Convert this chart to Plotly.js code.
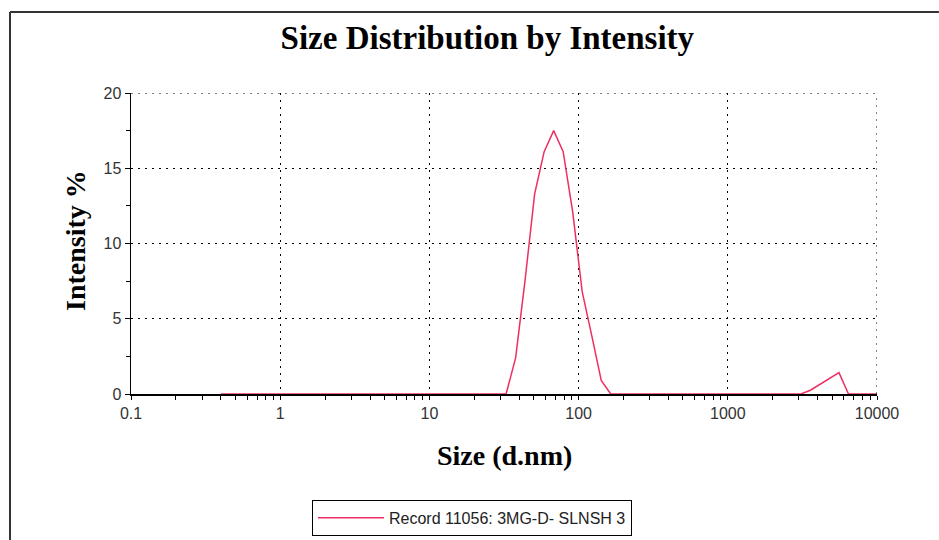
<!DOCTYPE html>
<html>
<head>
<meta charset="utf-8">
<script src="https://cdn.plot.ly/plotly-3.0.1.min.js"></script>
<style>html,body{margin:0;padding:0;background:#fff;}#chart{width:939px;height:540px;}</style>
</head>
<body>
<div id="chart"></div>
<script>
// Malvern size bins (d.nm)
const sizes = [0.4, 0.4632, 0.5365, 0.6213, 0.7195, 0.8332, 0.9649, 1.117, 1.294, 1.499,
  1.736, 2.010, 2.328, 2.696, 3.122, 3.615, 4.187, 4.849, 5.615, 6.503,
  7.531, 8.721, 10.10, 11.70, 13.54, 15.69, 18.17, 21.04, 24.36, 28.21,
  32.67, 37.84, 43.82, 50.75, 58.77, 68.06, 78.82, 91.28, 105.7, 122.4,
  141.8, 164.2, 190.1, 220.2, 255.0, 295.3, 342.0, 396.1, 458.7, 531.2,
  615.1, 712.4, 825.0, 955.4, 1106, 1281, 1484, 1718, 1990, 2305,
  2669, 3091, 3580, 4145, 4801, 5560, 6439, 7456, 8635, 10000];
// Intensity (%)
const intensity = [0, 0, 0, 0, 0, 0, 0, 0, 0, 0,
  0, 0, 0, 0, 0, 0, 0, 0, 0, 0,
  0, 0, 0, 0, 0, 0, 0, 0, 0, 0,
  0, 2.4, 7.6, 13.3, 16.1, 17.5, 16.1, 12.1, 6.8, 3.9,
  0.9, 0, 0, 0, 0, 0, 0, 0, 0, 0,
  0, 0, 0, 0, 0, 0, 0, 0, 0, 0,
  0, 0, 0.25, 0.65, 1.05, 1.42, 0, 0, 0, 0];
const seriesName = "Record 11056: 3MG-D- SLNSH 3";
const chartTitle = "Size Distribution by Intensity";
const xTitle = "Size (d.nm)";
const yTitle = "Intensity %";
const xTickVals = [0.1, 1, 10, 100, 1000, 10000];
const xTickText = ["0.1", "1", "10", "100", "1000", "10000"];
const xMinorVals = [0.2,0.3,0.4,0.5,0.6,0.7,0.8,0.9, 2,3,4,5,6,7,8,9, 20,30,40,50,60,70,80,90,
  200,300,400,500,600,700,800,900, 2000,3000,4000,5000,6000,7000,8000,9000];
const yTickVals = [0, 5, 10, 15, 20];
const xMin = 0.1, xMax = 10000, yMin = 0, yMax = 20;

const trace = {
  x: sizes, y: intensity, type: 'scatter', mode: 'lines', name: seriesName,
  line: {color: '#ee2f62', width: 1.5}, showlegend: true
};

const serif = 'Liberation Serif, Times New Roman, serif';
const sans = 'Liberation Sans, Arial, sans-serif';
const gridDash = '2px,5px';

const layout = {
  width: 939, height: 540,
  margin: {l: 131, r: 62, t: 93, b: 146, autoexpand: false},
  paper_bgcolor: '#fff', plot_bgcolor: '#fff',
  showlegend: true,
  title: {text: '<b>' + chartTitle + '</b>', font: {family: serif, size: 33, color: '#000'},
    xref: 'container', yref: 'container', x: 0.519, y: 0.93, xanchor: 'center', yanchor: 'middle'},
  xaxis: {
    type: 'log', range: [Math.log10(xMin), Math.log10(xMax)], tickmode: 'array', tickvals: xTickVals, ticktext: xTickText,
    ticks: 'outside', ticklen: 4, tickcolor: '#000', tickfont: {family: sans, size: 16, color: '#333'},
    showline: true, linecolor: '#000', linewidth: 1.5,
    showgrid: true, gridcolor: '#000', gridwidth: 1, griddash: gridDash,
    zeroline: false, automargin: false,
    minor: {tickmode: 'array', tickvals: xMinorVals, ticks: 'outside', ticklen: 4, tickcolor: '#000', showgrid: false}
  },
  yaxis: {
    range: [yMin, yMax], tickmode: 'array', tickvals: yTickVals,
    ticks: 'outside', ticklen: 5, tickcolor: '#000', tickfont: {family: sans, size: 16, color: '#333'},
    showline: true, linecolor: '#000', linewidth: 1.5,
    showgrid: true, gridcolor: '#000', gridwidth: 1, griddash: gridDash,
    zeroline: false, automargin: false,
    minor: {dtick: 2.5, ticks: 'outside', ticklen: 4, tickcolor: '#000', showgrid: false}
  },
  legend: {
    x: 0.2426, xanchor: 'left', y: -0.352, yanchor: 'top', orientation: 'h',
    bgcolor: '#fff', bordercolor: '#000', borderwidth: 1, itemwidth: 66,
    font: {family: sans, size: 16, color: '#222'}
  },
  annotations: [
    {text: '<b>' + xTitle + '</b>', xref: 'paper', yref: 'paper', x: 0.5, y: -0.2027,
     xanchor: 'center', yanchor: 'middle', showarrow: false, font: {family: serif, size: 28, color: '#000'}},
    {text: '<b>' + yTitle + '</b>', xref: 'paper', yref: 'paper', x: -0.0751, y: 0.5116, textangle: -90,
     xanchor: 'center', yanchor: 'middle', showarrow: false, font: {family: serif, size: 28, color: '#000'}}
  ],
  shapes: [
    // edge grid lines (top and right) that Plotly omits
    {type: 'line', xref: 'paper', yref: 'y', x0: 0, x1: 1, y0: yMax, y1: yMax, line: {color: '#000', width: 1, dash: gridDash}},
    {type: 'line', xref: 'x', yref: 'paper', x0: xMax, x1: xMax, y0: 0, y1: 1, line: {color: '#000', width: 1, dash: gridDash}},
    // outer frame
    {type: 'line', xref: 'paper', yref: 'paper', x0: -0.1622, x1: 1.083, y0: 1.269, y1: 1.269, line: {color: '#333', width: 2}},
    {type: 'line', xref: 'paper', yref: 'paper', x0: -0.1622, x1: -0.1622, y0: -0.485, y1: 1.269, line: {color: '#333', width: 2}}
  ]
};

Plotly.newPlot('chart', [trace], layout, {displayModeBar: false, staticPlot: true});
</script>
</body>
</html>
